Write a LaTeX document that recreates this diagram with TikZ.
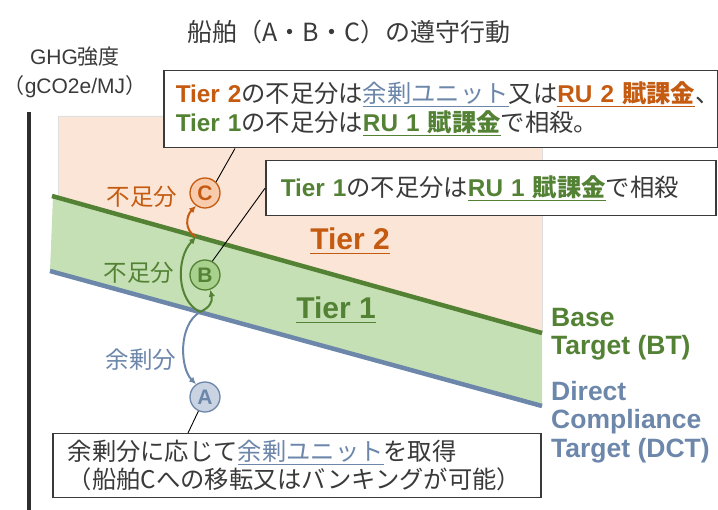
\documentclass[tikz,border=0pt]{standalone}
\usepackage{fontspec}
\setmainfont{Noto Sans CJK JP}
\newfontfamily\en{Liberation Sans}
\usetikzlibrary{arrows.meta}

\definecolor{orng}{HTML}{C55A11}
\definecolor{grn}{HTML}{548235}
\definecolor{slate}{HTML}{6D87AB}
\definecolor{tiertwo}{HTML}{FBE5D6}
\definecolor{tierone}{HTML}{C5E0B4}
\definecolor{cfill}{HTML}{F8CBAD}
\definecolor{bfill}{HTML}{A9D18E}
\definecolor{afill}{HTML}{C9D3E2}
\definecolor{ink}{HTML}{3A3A3A}

% thick underline in the current colour
\newcommand{\uline}[1]{\setbox0\hbox{#1}\rlap{\rule[-4.5pt]{\wd0}{1.3pt}}\box0}

\begin{document}
\begin{tikzpicture}[x=1pt, y=-1pt,
    callout/.style={draw=ink, line width=1.5pt, fill=white, anchor=north west, align=left,
      inner xsep=12pt, inner ysep=0pt, text=ink, font=\fontsize{24.3}{29}\selectfont},
    ship/.style={circle, line width=1.3pt, minimum size=30pt, inner sep=0pt,
      font=\en\bfseries\fontsize{21}{21}\selectfont},
    flow/.style={-{Latex[length=7pt,width=6.5pt]}, line width=2pt},
    leader/.style={draw=black, line width=0.9pt},
    gaplbl/.style={font=\fontsize{23.5}{23.5}\selectfont},
    tierlbl/.style={font=\en\bfseries\fontsize{30}{30}\selectfont},
    targetlbl/.style={anchor=west, align=left, inner sep=0pt, font=\en\bfseries\fontsize{26.5}{28.5}\selectfont}]
    \useasboundingbox (0,0) rectangle (718,510);

    % regions
    \fill[tiertwo] (58,198) -- (58,116) -- (542,116) -- (542,333) -- cycle;
    \draw[gray!25, line width=0.8pt] (58,198) -- (58,116) -- (542,116) -- (542,333);
    \fill[tierone] (53,196) -- (542,333) -- (542,406) -- (50,271) -- cycle;

    % axis
    \draw[ink!80!black, line width=4pt] (29,112) -- (29,510);

    % targets
    \coordinate (bt0) at (52,196);
    \coordinate (bt1) at (542,333);
    \coordinate (dct0) at (50,271);
    \coordinate (dct1) at (542,406);
    \draw[grn, line width=4.5pt] (bt0) -- (bt1);
    \draw[slate, line width=4.5pt] (dct0) -- (dct1);
    \coordinate (onbt) at (196,237);
    \coordinate (ondct) at (200,312);

    % ships
    \node[ship, draw=orng, fill=cfill, text=orng] (C) at (205,193) {C};
    \node[ship, draw=grn, fill=bfill, text=grn] (B) at (205,275) {B};
    \node[ship, draw=slate, fill=afill, text=slate] (A) at (205,397) {A};

    % flows
    \draw[flow, slate] (ondct) .. controls (178,325) and (180,368) .. (A.125);
    \draw[flow, grn] (ondct) .. controls (176,300) and (176,258) .. (onbt);
    \draw[flow, grn] (ondct) .. controls (209,308) and (213,302) .. (B.290);
    \draw[flow, orng] (onbt) .. controls (184,230) and (186,216) .. (C.235);

    \node[gaplbl, text=orng] (gapC) at (142,197) {不足分};
    \node[gaplbl, text=grn] (gapB) at (139,273) {不足分};
    \node[gaplbl, text=slate] (surA) at (141,360) {余剰分};

    % tiers
    \node[tierlbl, text=orng] (t2) at (350,241) {\uline{Tier 2}};
    \node[tierlbl, text=grn] (t1) at (336,310) {\uline{Tier 1}};
    \node[targetlbl, text=grn] (bt) at (551,334) {Base\\Target (BT)};
    \node[targetlbl, text=slate] (dct) at (551,422) {Direct\\Compliance\\Target (DCT)};

    % callouts
    \node[callout, text width=530pt, minimum height=77pt] (boxT2) at (163,70)
      {{\en\bfseries\color{orng}Tier~2}の不足分は\textcolor{slate}{\uline{余剰ユニット}}又は\textcolor{orng}{\bfseries\uline{{\en RU~2} 賦課金}}、\\
       {\en\bfseries\color{grn}Tier~1}の不足分は\textcolor{grn}{\bfseries\uline{{\en RU~1} 賦課金}}で相殺。};
    \node[callout, inner xsep=15pt, text width=420pt, minimum height=55pt] (boxT1) at (265,160)
      {{\en\bfseries\color{grn}Tier~1}の不足分は\textcolor{grn}{\bfseries\uline{{\en RU~1} 賦課金}}で相殺};
    \node[callout, inner xsep=15pt, text width=458pt, minimum height=64pt, font=\fontsize{24.3}{28}\selectfont] (boxA) at (52,433)
      {余剰分に応じて\textcolor{slate}{\uline{余剰ユニット}}を取得\\（船舶Cへの移転又はバンキングが可能）};

    \draw[leader] ([xshift=72pt]boxT2.south west) -- (C.45);
    \draw[leader] (boxT1.west) -- (B.62);
    \draw[leader] (A.245) -- ([xshift=136pt]boxA.north west);

    % title and axis label
    \node[text=ink, font=\fontsize{25}{25}\selectfont] (title) at (349,32) {船舶（A・B・C）の遵守行動};
    \node[text=ink, align=center, inner sep=0pt, font=\fontsize{21}{29}\selectfont] (ylbl) at (75,72.5) {{\en GHG}強度\\（{\en gCO2e/MJ}）};
\end{tikzpicture}
\end{document}
